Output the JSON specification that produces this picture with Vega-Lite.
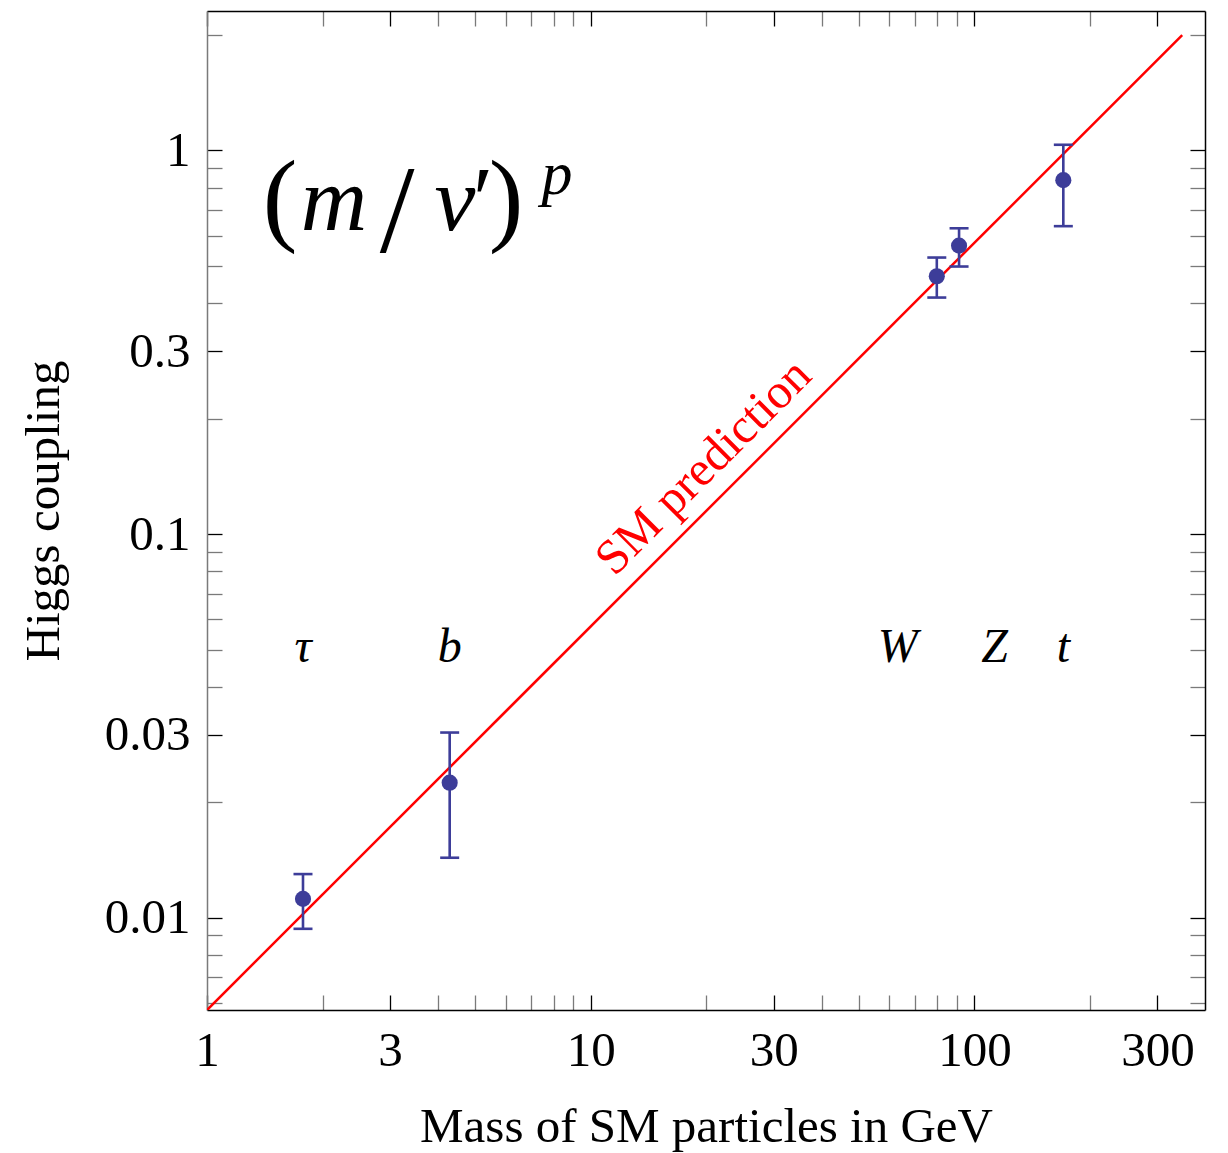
{
  "$schema": "https://vega.github.io/schema/vega-lite/v6.json",
  "width": 998,
  "height": 999,
  "autosize": {"type": "none"},
  "padding": {"left": 207, "top": 11, "right": 23, "bottom": 143},
  "background": "white",
  "config": {"view": {"stroke": null}, "font": "Liberation Serif"},
  "datasets": {
    "sm": [{"mass": 1, "coupling": 0.005747}, {"mass": 348, "coupling": 2.0}],
    "particles": [
      {"particle": "τ", "mass": 1.779, "coupling": 0.0112, "low": 0.00936, "high": 0.0130},
      {"particle": "b", "mass": 4.29, "coupling": 0.0225, "low": 0.01434, "high": 0.0304},
      {"particle": "W", "mass": 79.8, "coupling": 0.470, "low": 0.4137, "high": 0.526},
      {"particle": "Z", "mass": 91.2, "coupling": 0.565, "low": 0.4984, "high": 0.627},
      {"particle": "t", "mass": 170.5, "coupling": 0.837, "low": 0.635, "high": 1.035}
    ],
    "labels": [
      {"particle": "τ", "mass": 1.779},
      {"particle": "b", "mass": 4.29},
      {"particle": "W", "mass": 63.1},
      {"particle": "Z", "mass": 112.8},
      {"particle": "t", "mass": 170.5}
    ],
    "annotation": [{}]
  },
  "layer": [
    {
      "data": {"name": "sm"},
      "mark": {"type": "line", "color": "#ff0000", "strokeWidth": 2.5, "clip": true},
      "encoding": {
        "x": {
          "field": "mass", "type": "quantitative",
          "scale": {"type": "log", "domain": [1, 399], "nice": false},
          "axis": {
            "orient": "bottom", "values": [1, 3, 10, 30, 100, 300], "format": "~g",
            "ticks": false, "domain": false, "grid": false,
            "labelFont": "Liberation Serif", "labelFontSize": 49, "labelColor": "black",
            "labelPadding": 16, "labelFlush": false, "labelOverlap": false,
            "title": "Mass of SM particles in GeV", "titleFont": "Liberation Serif",
            "titleFontSize": 49, "titleFontWeight": "normal", "titleColor": "black", "titlePadding": 27
          }
        },
        "y": {
          "field": "coupling", "type": "quantitative",
          "scale": {"type": "log", "domain": [0.00575, 2.31], "nice": false},
          "axis": {
            "orient": "left", "values": [0.01, 0.03, 0.1, 0.3, 1], "format": "~g",
            "ticks": false, "domain": false, "grid": false,
            "labelFont": "Liberation Serif", "labelFontSize": 49, "labelColor": "black",
            "labelPadding": 17, "labelFlush": false, "labelOverlap": false,
            "title": "Higgs coupling", "titleFont": "Liberation Serif",
            "titleFontSize": 49, "titleFontWeight": "normal", "titleColor": "black", "titlePadding": 36
          }
        }
      }
    },
    {
      "data": {"name": "particles"},
      "mark": {"type": "rule", "color": "#3d3d99", "strokeWidth": 2.6},
      "encoding": {
        "x": {
          "field": "mass", "type": "quantitative",
          "scale": {"type": "log", "domain": [1, 399], "nice": false},
          "axis": {
            "orient": "bottom",
            "values": [1, 2, 3, 4, 5, 6, 7, 8, 9, 10, 20, 30, 40, 50, 60, 70, 80, 90, 100, 200, 300],
            "labels": false, "title": null, "grid": false,
            "tickSize": -15, "tickWidth": 1.3,
            "tickColor": {"condition": {"test": "indexof([1,3,10,30,100,300], datum.value) >= 0", "value": "#000000"}, "value": "#7a7a7a"},
            "domainColor": "#000000", "domainWidth": 1.5
          }
        },
        "y": {
          "field": "low", "type": "quantitative",
          "scale": {"type": "log", "domain": [0.00575, 2.31], "nice": false},
          "axis": {
            "orient": "left",
            "values": [0.006, 0.007, 0.008, 0.009, 0.01, 0.02, 0.03, 0.04, 0.05, 0.06, 0.07, 0.08, 0.09, 0.1, 0.2, 0.3, 0.4, 0.5, 0.6, 0.7, 0.8, 0.9, 1, 2],
            "labels": false, "title": null, "grid": false,
            "tickSize": -15, "tickWidth": 1.3,
            "tickColor": {"condition": {"test": "indexof([0.01,0.03,0.1,0.3,1], datum.value) >= 0", "value": "#000000"}, "value": "#7a7a7a"},
            "domainColor": "#7a7a7a", "domainWidth": 1.5
          }
        },
        "y2": {"field": "high"}
      }
    },
    {
      "data": {"name": "particles"},
      "mark": {"type": "tick", "orient": "horizontal", "color": "#3d3d99", "size": 19, "thickness": 2.6, "opacity": 1},
      "encoding": {
        "x": {
          "field": "mass", "type": "quantitative",
          "scale": {"type": "log", "domain": [1, 399], "nice": false},
          "axis": {
            "orient": "top",
            "values": [1, 2, 3, 4, 5, 6, 7, 8, 9, 10, 20, 30, 40, 50, 60, 70, 80, 90, 100, 200, 300],
            "labels": false, "title": null, "grid": false,
            "tickSize": -15, "tickWidth": 1.3,
            "tickColor": {"condition": {"test": "indexof([1,3,10,30,100,300], datum.value) >= 0", "value": "#000000"}, "value": "#7a7a7a"},
            "domainColor": "#000000", "domainWidth": 1.5
          }
        },
        "y": {
          "field": "high", "type": "quantitative",
          "scale": {"type": "log", "domain": [0.00575, 2.31], "nice": false},
          "axis": {
            "orient": "right",
            "values": [0.006, 0.007, 0.008, 0.009, 0.01, 0.02, 0.03, 0.04, 0.05, 0.06, 0.07, 0.08, 0.09, 0.1, 0.2, 0.3, 0.4, 0.5, 0.6, 0.7, 0.8, 0.9, 1, 2],
            "labels": false, "title": null, "grid": false,
            "tickSize": -15, "tickWidth": 1.3,
            "tickColor": {"condition": {"test": "indexof([0.01,0.03,0.1,0.3,1], datum.value) >= 0", "value": "#000000"}, "value": "#7a7a7a"},
            "domainColor": "#000000", "domainWidth": 1.5
          }
        }
      }
    },
    {
      "data": {"name": "particles"},
      "mark": {"type": "tick", "orient": "horizontal", "color": "#3d3d99", "size": 19, "thickness": 2.6, "opacity": 1},
      "encoding": {
        "x": {"field": "mass", "type": "quantitative", "scale": {"type": "log", "domain": [1, 399], "nice": false}, "axis": null},
        "y": {"field": "low", "type": "quantitative", "scale": {"type": "log", "domain": [0.00575, 2.31], "nice": false}, "axis": null}
      }
    },
    {
      "data": {"name": "particles"},
      "mark": {"type": "circle", "color": "#3d3d99", "size": 260, "opacity": 1},
      "encoding": {
        "x": {"field": "mass", "type": "quantitative", "scale": {"type": "log", "domain": [1, 399], "nice": false}, "axis": null},
        "y": {"field": "coupling", "type": "quantitative", "scale": {"type": "log", "domain": [0.00575, 2.31], "nice": false}, "axis": null}
      }
    },
    {
      "data": {"name": "labels"},
      "mark": {"type": "text", "font": "Liberation Serif", "fontStyle": "italic", "fontSize": 48, "color": "black", "align": "center", "baseline": "alphabetic"},
      "encoding": {
        "x": {"field": "mass", "type": "quantitative", "scale": {"type": "log", "domain": [1, 399], "nice": false}, "axis": null},
        "y": {"datum": 0.0464, "type": "quantitative", "scale": {"type": "log", "domain": [0.00575, 2.31], "nice": false}, "axis": null},
        "text": {"field": "particle"}
      }
    },
    {
      "data": {"name": "annotation"},
      "mark": {"type": "text", "font": "Liberation Serif", "fontSize": 104, "color": "black", "align": "center", "baseline": "alphabetic"},
      "encoding": {
        "x": {"datum": 1.55, "type": "quantitative", "scale": {"type": "log", "domain": [1, 399], "nice": false}, "axis": null},
        "y": {"datum": 0.612, "type": "quantitative", "scale": {"type": "log", "domain": [0.00575, 2.31], "nice": false}, "axis": null},
        "text": {"value": "("}
      }
    },
    {
      "data": {"name": "annotation"},
      "mark": {"type": "text", "font": "Liberation Serif", "fontStyle": "italic", "fontSize": 92, "color": "black", "align": "center", "baseline": "alphabetic"},
      "encoding": {
        "x": {"datum": 2.143, "type": "quantitative", "scale": {"type": "log", "domain": [1, 399], "nice": false}, "axis": null},
        "y": {"datum": 0.622, "type": "quantitative", "scale": {"type": "log", "domain": [0.00575, 2.31], "nice": false}, "axis": null},
        "text": {"value": "m"}
      }
    },
    {
      "data": {"name": "annotation"},
      "mark": {"type": "text", "font": "Liberation Serif", "fontSize": 125, "color": "black", "align": "center", "baseline": "alphabetic"},
      "encoding": {
        "x": {"datum": 3.128, "type": "quantitative", "scale": {"type": "log", "domain": [1, 399], "nice": false}, "axis": null},
        "y": {"datum": 0.5452, "type": "quantitative", "scale": {"type": "log", "domain": [0.00575, 2.31], "nice": false}, "axis": null},
        "text": {"value": "/"}
      }
    },
    {
      "data": {"name": "annotation"},
      "mark": {"type": "text", "font": "Liberation Serif", "fontStyle": "italic", "fontSize": 92, "color": "black", "align": "center", "baseline": "alphabetic"},
      "encoding": {
        "x": {"datum": 4.43, "type": "quantitative", "scale": {"type": "log", "domain": [1, 399], "nice": false}, "axis": null},
        "y": {"datum": 0.622, "type": "quantitative", "scale": {"type": "log", "domain": [0.00575, 2.31], "nice": false}, "axis": null},
        "text": {"value": "v"}
      }
    },
    {
      "data": {"name": "annotation"},
      "mark": {"type": "text", "font": "Liberation Serif", "fontSize": 92, "color": "black", "align": "center", "baseline": "alphabetic"},
      "encoding": {
        "x": {"datum": 5.241, "type": "quantitative", "scale": {"type": "log", "domain": [1, 399], "nice": false}, "axis": null},
        "y": {"datum": 0.622, "type": "quantitative", "scale": {"type": "log", "domain": [0.00575, 2.31], "nice": false}, "axis": null},
        "text": {"value": "′"}
      }
    },
    {
      "data": {"name": "annotation"},
      "mark": {"type": "text", "font": "Liberation Serif", "fontSize": 104, "color": "black", "align": "center", "baseline": "alphabetic"},
      "encoding": {
        "x": {"datum": 6.016, "type": "quantitative", "scale": {"type": "log", "domain": [1, 399], "nice": false}, "axis": null},
        "y": {"datum": 0.612, "type": "quantitative", "scale": {"type": "log", "domain": [0.00575, 2.31], "nice": false}, "axis": null},
        "text": {"value": ")"}
      }
    },
    {
      "data": {"name": "annotation"},
      "mark": {"type": "text", "font": "Liberation Serif", "fontStyle": "italic", "fontSize": 62, "color": "black", "align": "center", "baseline": "alphabetic"},
      "encoding": {
        "x": {"datum": 8.171, "type": "quantitative", "scale": {"type": "log", "domain": [1, 399], "nice": false}, "axis": null},
        "y": {"datum": 0.768, "type": "quantitative", "scale": {"type": "log", "domain": [0.00575, 2.31], "nice": false}, "axis": null},
        "text": {"value": "p"}
      }
    },
    {
      "data": {"name": "annotation"},
      "mark": {"type": "text", "font": "Liberation Serif", "fontSize": 49, "color": "#ff0000", "align": "center", "baseline": "alphabetic", "angle": 315},
      "encoding": {
        "x": {"datum": 20.96, "type": "quantitative", "scale": {"type": "log", "domain": [1, 399], "nice": false}, "axis": null},
        "y": {"datum": 0.1404, "type": "quantitative", "scale": {"type": "log", "domain": [0.00575, 2.31], "nice": false}, "axis": null},
        "text": {"value": "SM prediction"}
      }
    }
  ],
  "resolve": {"axis": {"x": "independent", "y": "independent"}}
}
